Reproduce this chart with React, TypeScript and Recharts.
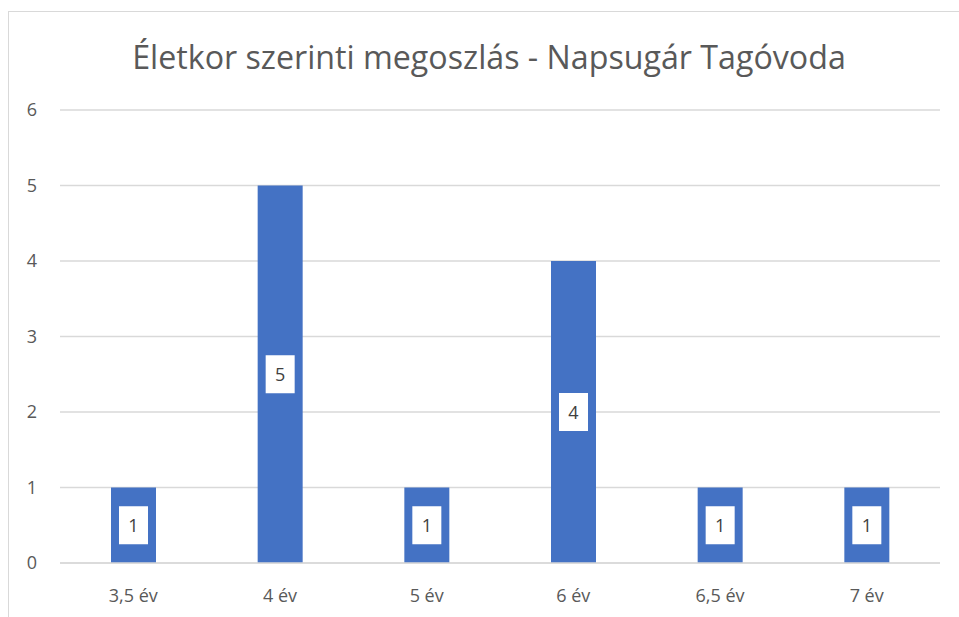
import { BarChart, Bar, XAxis, YAxis, CartesianGrid, LabelList } from 'recharts';

const categories = ['3,5 év', '4 év', '5 év', '6 év', '6,5 év', '7 év'];
const counts = [1, 5, 1, 4, 1, 1];
const yTicks = [0, 1, 2, 3, 4, 5, 6];

const TITLE = 'Életkor szerinti megoszlás - Napsugár Tagóvoda';
const FONT = '"Open Sans", "Noto Sans", sans-serif';
const BAR_COLOR = '#4472C4';

const data = categories.map((name, i) => ({ name, value: counts[i] }));

function BoxLabel(props: any) {
  const { x, y, width, height, value } = props;
  const cx = x + width / 2;
  const cy = y + height / 2;
  return (
    <g>
      <rect x={cx - 14.5} y={cy - 19} width={29} height={38} fill="#ffffff" />
      <text
        x={cx}
        y={cy}
        textAnchor="middle"
        dominantBaseline="central"
        fontSize={18}
        fill="#404040"
        fontFamily={FONT}
      >
        {value}
      </text>
    </g>
  );
}

export default function App() {
  return (
    <div style={{ position: 'absolute', left: 0, top: 0, width: 959, height: 617, overflow: 'hidden', background: '#fff' }}>
      <div
        style={{
          position: 'absolute',
          left: 8,
          top: 11,
          width: 1000,
          height: 700,
          border: '1px solid #d9d9d9',
        }}
      />
      <div
        style={{
          position: 'absolute',
          left: 0,
          width: 978,
          top: 35,
          textAlign: 'center',
          fontFamily: FONT,
          fontSize: 32.2,
          color: '#595959',
          lineHeight: '44px',
        }}
      >
        {TITLE}
      </div>
      <div style={{ position: 'absolute', left: 0, top: 0 }}>
        <BarChart width={959} height={617} data={data} margin={{ top: 110, right: 19, bottom: 0, left: 0 }}>
          <CartesianGrid vertical={false} stroke="#d9d9d9" strokeWidth={1.5} />
          <XAxis
            dataKey="name"
            height={54}
            axisLine={{ stroke: '#d9d9d9', strokeWidth: 1.5 }}
            tickLine={false}
            tickMargin={20}
            tick={{ fill: '#595959', fontSize: 18, fontFamily: FONT }}
          />
          <YAxis
            width={60}
            domain={[0, 6]}
            ticks={yTicks}
            axisLine={false}
            tickLine={false}
            tickMargin={17}
            tick={{ fill: '#595959', fontSize: 18, fontFamily: FONT }}
          />
          <Bar dataKey="value" fill={BAR_COLOR} barSize={45} isAnimationActive={false}>
            <LabelList dataKey="value" content={BoxLabel} />
          </Bar>
        </BarChart>
      </div>
    </div>
  );
}
